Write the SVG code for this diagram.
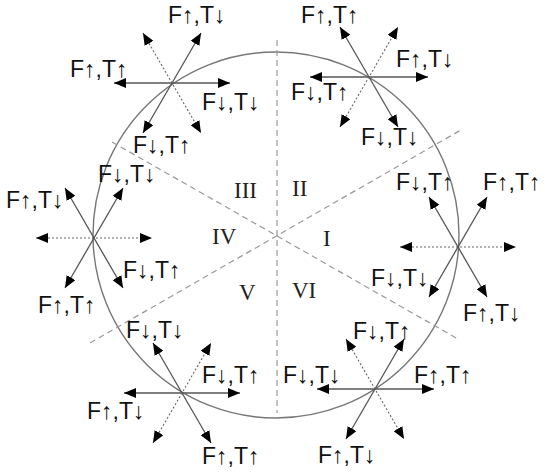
<svg xmlns="http://www.w3.org/2000/svg" width="546" height="473" viewBox="0 0 546 473">
<defs>
<marker id="ah" viewBox="0 0 12 10" refX="12" refY="5" markerWidth="12" markerHeight="10" markerUnits="userSpaceOnUse" orient="auto-start-reverse">
<path d="M0,0 L12,5 L0,10 z" fill="#000"/>
</marker>
<style>
.sol{stroke:#555;stroke-width:1.3;fill:none;marker-start:url(#ah);marker-end:url(#ah)}
.dot{stroke:#666;stroke-width:1.1;stroke-dasharray:2 2;fill:none;marker-start:url(#ah);marker-end:url(#ah)}
.sec{stroke:#999;stroke-width:1.2;stroke-dasharray:6 4;fill:none}
.lbl{font-family:"Liberation Sans",Arial,sans-serif;font-size:23px;fill:#111}
.rom{font-family:"Liberation Serif","Times New Roman",serif;font-size:23px;fill:#222}
</style>
</defs>
<rect width="546" height="473" fill="#fff"/>
<circle cx="276" cy="235" r="183" fill="none" stroke="#777" stroke-width="1.4"/>
<g id="sectors">
<line class="sec" x1="277" y1="40" x2="277" y2="413"/>
<line class="sec" x1="112" y1="142" x2="458" y2="339"/>
<line class="sec" x1="90" y1="343" x2="461" y2="130"/>
</g>
<g id="numerals">
<text class="rom" x="234" y="198">III</text>
<text class="rom" x="292" y="196">II</text>
<text class="rom" x="212" y="244">IV</text>
<text class="rom" x="323" y="246">I</text>
<text class="rom" x="239" y="300">V</text>
<text class="rom" x="292" y="298">VI</text>
</g>
<g id="star1">
<line class="sol" x1="114" y1="83" x2="230" y2="83"/>
<line class="sol" x1="143" y1="133" x2="201" y2="33"/>
<line class="dot" x1="143" y1="33" x2="201" y2="133"/>
<text class="lbl" x="168" y="23">F↑,T↓</text>
<text class="lbl" x="70" y="77">F↑,T↑</text>
<text class="lbl" x="202" y="110">F↓,T↓</text>
<text class="lbl" x="133" y="153">F↓,T↑</text>
</g>
<g id="star2">
<line class="sol" x1="310" y1="77" x2="428" y2="77"/>
<line class="sol" x1="398" y1="127" x2="340" y2="27"/>
<line class="dot" x1="340" y1="127" x2="398" y2="27"/>
<text class="lbl" x="301" y="23">F↑,T↑</text>
<text class="lbl" x="396" y="67">F↑,T↓</text>
<text class="lbl" x="291" y="100">F↓,T↑</text>
<text class="lbl" x="361" y="145">F↓,T↓</text>
</g>
<g id="star3">
<line class="dot" x1="36" y1="238" x2="152" y2="238"/>
<line class="sol" x1="65" y1="288" x2="123" y2="188"/>
<line class="sol" x1="123" y1="288" x2="65" y2="188"/>
<text class="lbl" x="6" y="208">F↑,T↓</text>
<text class="lbl" x="98" y="182">F↓,T↓</text>
<text class="lbl" x="123" y="278">F↓,T↑</text>
<text class="lbl" x="38" y="313">F↑,T↑</text>
</g>
<g id="star4">
<line class="dot" x1="400" y1="247" x2="516" y2="247"/>
<line class="sol" x1="429" y1="297" x2="487" y2="197"/>
<line class="sol" x1="487" y1="297" x2="429" y2="197"/>
<text class="lbl" x="396" y="190">F↓,T↑</text>
<text class="lbl" x="483" y="190">F↑,T↑</text>
<text class="lbl" x="371" y="286">F↓,T↓</text>
<text class="lbl" x="463" y="321">F↑,T↓</text>
</g>
<g id="star5">
<line class="sol" x1="124" y1="393" x2="240" y2="393"/>
<line class="sol" x1="211" y1="443" x2="153" y2="343"/>
<line class="dot" x1="153" y1="443" x2="211" y2="343"/>
<text class="lbl" x="126" y="338">F↓,T↓</text>
<text class="lbl" x="202" y="383">F↓,T↑</text>
<text class="lbl" x="87" y="419">F↑,T↓</text>
<text class="lbl" x="202" y="464">F↑,T↑</text>
</g>
<g id="star6">
<line class="sol" x1="317" y1="389" x2="434" y2="389"/>
<line class="sol" x1="346" y1="439" x2="404" y2="339"/>
<line class="dot" x1="346" y1="339" x2="404" y2="439"/>
<text class="lbl" x="353" y="339">F↓,T↑</text>
<text class="lbl" x="283" y="383">F↓,T↓</text>
<text class="lbl" x="414" y="383">F↑,T↑</text>
<text class="lbl" x="318" y="463">F↑,T↓</text>
</g>
</svg>
